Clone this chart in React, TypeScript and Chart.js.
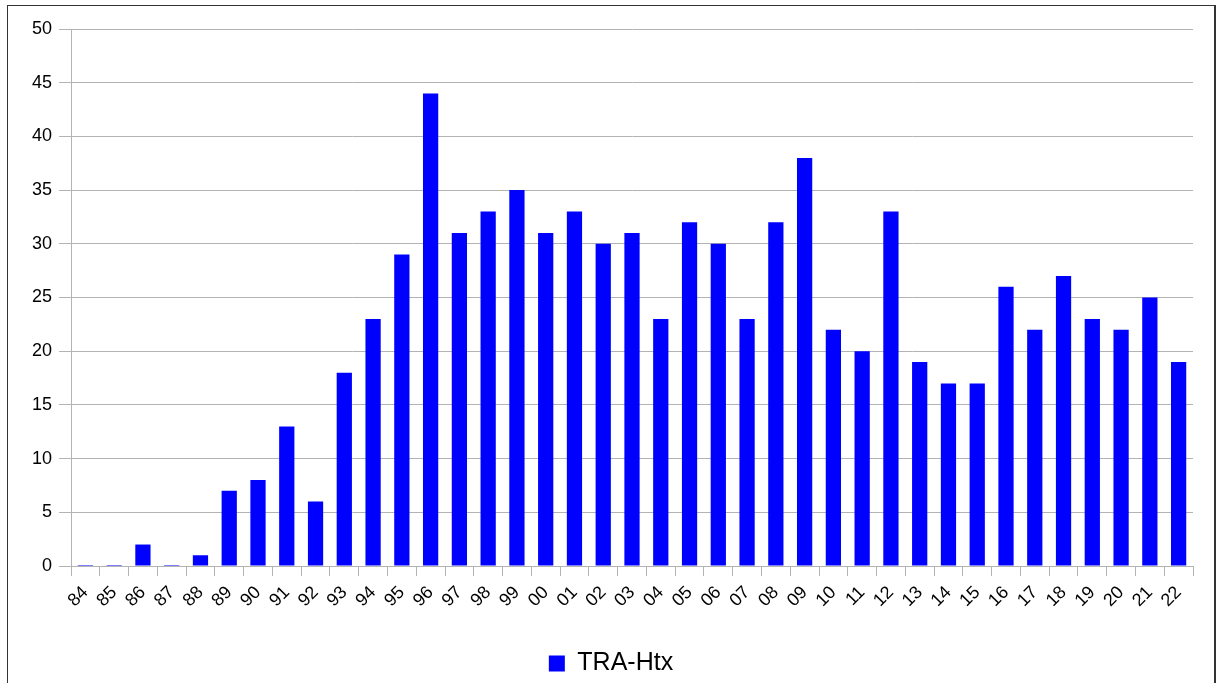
import React, { useEffect, useRef } from "react";
import { Chart, registerables } from "chart.js";

Chart.register(...registerables);

const years = [
  "84", "85", "86", "87", "88", "89", "90", "91", "92", "93", "94", "95", "96", "97", "98", "99",
  "00", "01", "02", "03", "04", "05", "06", "07", "08", "09", "10", "11", "12", "13", "14", "15",
  "16", "17", "18", "19", "20", "21", "22",
];
const traHtx = [
  0, 0, 2, 0, 1, 7, 8, 13, 6, 18, 23, 29, 44, 31, 33, 35,
  31, 33, 30, 31, 23, 32, 30, 23, 32, 38, 22, 20, 33, 19, 17, 17,
  26, 22, 27, 23, 22, 25, 19,
];
const seriesName = "TRA-Htx";
const yMax = 50;
const yStep = 5;

const GRID = "#b3b3b3";
const FONT = "'Liberation Sans', Arial, sans-serif";

export default function App() {
  const ref = useRef<HTMLCanvasElement | null>(null);

  useEffect(() => {
    if (!ref.current) return;
    const chart = new Chart(ref.current, {
      type: "bar",
      data: {
        labels: years,
        datasets: [
          {
            label: seriesName,
            data: traHtx,
            backgroundColor: "#0000ff",
            borderWidth: 0,
            barPercentage: 0.53,
            categoryPercentage: 1,
            minBarLength: 1,
          },
        ],
      },
      options: {
        responsive: false,
        animation: false,
        devicePixelRatio: 1,
        layout: { padding: { left: 4, top: 29, right: 0, bottom: -3 } },
        plugins: {
          tooltip: { enabled: false },
          legend: {
            position: "bottom",
            labels: {
              boxWidth: 16,
              boxHeight: 16,
              padding: 2,
              color: "#000",
              font: { family: FONT, size: 25 },
            },
          },
        },
        scales: {
          x: {
            offset: true,
            grid: {
              offset: true,
              drawOnChartArea: true,
              color: (ctx: any) => (ctx.index === years.length ? GRID : "rgba(0,0,0,0)"),
              tickColor: GRID,
              tickLength: 10,
            },
            border: { display: true, color: GRID },
            ticks: {
              autoSkip: false,
              maxRotation: 45,
              minRotation: 45,
              padding: 6,
              color: "#000",
              font: { family: FONT, size: 18 },
            },
            afterFit: (scale: any) => {
              scale.height = 83;
            },
          },
          y: {
            min: 0,
            max: yMax,
            ticks: {
              stepSize: yStep,
              padding: 7,
              color: "#000",
              font: { family: FONT, size: 18 },
            },
            grid: { color: GRID, tickColor: GRID, tickLength: 12 },
            border: { display: true, color: GRID },
            afterFit: (scale: any) => {
              scale.width = 67;
            },
          },
          spacer: {
            type: "linear",
            position: "right",
            display: true,
            grid: { display: false },
            border: { display: false },
            ticks: { display: false },
            afterFit: (scale: any) => {
              scale.width = 25;
            },
          },
        },
      },
    });
    return () => chart.destroy();
  }, []);

  return (
    <div style={{ position: "fixed", left: 0, top: 0, width: 1218, height: 683, overflow: "hidden", background: "#fff" }}>
      <canvas ref={ref} width={1218} height={683} style={{ position: "absolute", left: 0, top: 0, width: 1218, height: 683 }} />
      <div
        style={{
          position: "absolute",
          left: 7,
          top: 5,
          width: 1209,
          height: 700,
          boxSizing: "border-box",
          border: "1px solid #333",
          borderRightWidth: 2,
          pointerEvents: "none",
        }}
      />
    </div>
  );
}
